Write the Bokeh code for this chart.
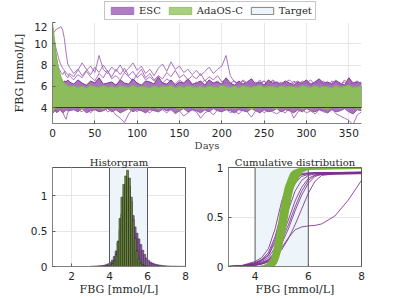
from bokeh.plotting import figure
from bokeh.layouts import column, row
from bokeh.models import Legend, LegendItem, ColumnDataSource, FixedTicker
from bokeh.embed import file_html
from bokeh.resources import INLINE

# ---------------- data ----------------
days = [0, 1, 2, 3, 4, 5, 6, 7, 8, 10, 12, 14, 16, 18] + list(range(20, 366, 5))
TARGET = (4.0, 6.0)
DAY_SPAN = (0, 365)
series_names = ["ESC", "AdaOS-C", "Target"]

ada_upper = [12.0, 11.3, 10.5, 9.8, 9.2, 8.6, 8.1, 7.7, 7.4, 6.9, 6.5, 6.3, 6.15, 6.05] + [
    5.95, 6.05, 5.9, 6.0, 5.85, 6.1, 5.95, 5.9, 6.05, 5.9,
    6.0, 5.85, 6.05, 5.95, 5.9, 6.1, 5.9, 6.0, 5.95, 5.85,
    6.05, 5.9, 6.0, 5.95, 6.1, 5.85, 6.0, 5.9, 6.05, 5.95,
    5.9, 6.0, 5.85, 6.05, 5.95, 5.9, 6.1, 5.95, 5.9, 6.0,
    5.85, 6.05, 5.95, 5.9, 6.0, 6.1, 5.9, 5.95, 6.0, 5.85,
    6.05, 5.9, 6.0, 5.95, 5.85, 6.1, 5.95, 5.9, 6.05, 5.9,
    6.0, 5.95, 5.85, 6.05, 5.9, 6.0, 6.1, 5.9, 5.95, 6.0]
ada_lower = [3.4, 3.6, 3.8, 3.9, 3.9, 3.95, 3.9, 3.95, 3.9, 3.95, 3.9, 3.95, 3.9, 3.95] + [
    3.95, 3.9, 4.0, 3.85, 3.95, 4.0, 3.9, 3.95, 3.85, 4.0,
    3.9, 3.95, 4.0, 3.9, 3.85, 3.95, 4.0, 3.9, 3.95, 3.9,
    4.0, 3.85, 3.95, 3.9, 4.0, 3.95, 3.85, 3.9, 4.0, 3.95,
    3.9, 3.95, 3.85, 4.0, 3.9, 3.95, 4.0, 3.85, 3.95, 3.9,
    3.95, 4.0, 3.9, 3.85, 3.95, 3.9, 4.0, 3.95, 3.9, 3.85,
    4.0, 3.9, 3.95, 3.9, 4.0, 3.85, 3.95, 3.9, 3.95, 4.0,
    3.9, 3.85, 3.95, 4.0, 3.9, 3.95, 3.9, 4.0, 3.85, 3.95]
esc_upper = [6.8, 6.7, 6.9, 6.6, 6.8, 6.7, 6.5, 6.6, 6.4, 6.7, 6.3, 6.5, 6.4, 6.6] + [
    6.4, 6.2, 6.6, 6.3, 6.1, 6.5, 6.3, 6.8, 6.2, 6.3,
    6.4, 6.1, 6.6, 6.3, 6.2, 6.7, 6.3, 6.1, 6.5, 6.4,
    6.2, 6.9, 6.3, 6.2, 6.6, 6.1, 6.4, 6.3, 6.7, 6.2,
    6.3, 6.5, 6.1, 6.6, 6.3, 6.4, 6.2, 6.8, 6.3, 6.1,
    6.5, 6.2, 6.4, 6.7, 6.2, 6.4, 6.1, 6.6, 6.3, 6.4,
    6.2, 6.5, 6.3, 6.1, 6.4, 6.3, 6.6, 6.2, 6.4, 6.7,
    6.3, 6.4, 6.2, 6.5, 6.3, 6.1, 6.8, 6.3, 6.4, 6.3]
esc_lower = [3.6, 3.5, 3.7, 3.6, 3.8, 3.5, 3.7, 3.6, 3.8, 3.7, 3.5, 3.6, 3.8, 3.7] + [
    3.7, 3.8, 3.6, 3.9, 3.5, 3.7, 3.8, 3.6, 3.7, 3.9,
    3.6, 3.8, 3.5, 3.7, 3.9, 3.6, 3.8, 3.7, 3.5, 3.8,
    3.7, 3.6, 3.9, 3.7, 3.8, 3.5, 3.7, 3.9, 3.6, 3.8,
    3.7, 3.5, 3.8, 3.6, 3.9, 3.7, 3.6, 3.8, 3.7, 3.5,
    3.8, 3.7, 3.6, 3.9, 3.7, 3.5, 3.8, 3.6, 3.7, 3.9,
    3.6, 3.8, 3.7, 3.5, 3.8, 3.6, 3.9, 3.7, 3.6, 3.8,
    3.7, 3.5, 3.8, 3.6, 3.7, 3.9, 3.6, 3.4, 3.8, 3.7]
esc_trace_1 = [10.6, 11.0, 11.1, 11.2, 11.3, 11.4, 11.4, 11.5, 11.5, 11.6, 11.3, 10.5, 9.2, 8.1] + [
    7.8, 7.2, 7.6, 7.0, 7.5, 7.9, 7.3, 8.9, 7.6, 7.2,
    7.8, 7.4, 8.0, 7.3, 7.7, 8.2, 7.5, 7.9, 7.2, 7.6,
    7.0, 7.7, 8.1, 7.4, 8.3, 7.6, 7.9, 7.3, 7.6, 7.1,
    7.5, 7.0, 7.4, 7.8, 7.2, 7.6, 7.9, 8.9, 7.0, 6.4,
    6.2, 6.5, 6.1, 6.4, 6.2, 6.6, 6.0, 6.3, 6.5, 6.1,
    6.4, 6.2, 6.0, 6.3, 6.5, 6.1, 6.3, 6.0, 6.4, 6.2,
    6.5, 6.1, 6.3, 6.6, 6.2, 6.4, 6.0, 6.3, 6.5, 6.2]
esc_trace_2 = [10.2, 10.8, 10.5, 10.0, 9.6, 9.3, 9.0, 8.7, 8.4, 8.0, 7.7, 7.5, 7.3, 7.1] + [
    7.0, 6.6, 7.1, 6.8, 7.4, 6.9, 6.5, 7.2, 6.8, 7.5,
    6.7, 7.0, 6.6, 7.3, 6.9, 6.5, 7.1, 7.6, 6.8, 7.2,
    6.6, 7.0, 6.7, 7.3, 6.9, 7.5, 6.8, 7.1, 6.6, 7.0,
    6.7, 7.2, 6.5, 6.9, 6.6, 7.0, 6.4, 6.7, 6.3, 6.5,
    6.2, 6.6, 6.3, 6.0, 6.4, 6.2, 6.5, 6.1, 6.6, 6.3,
    6.0, 6.4, 6.6, 6.2, 6.1, 6.5, 6.3, 6.6, 6.1, 6.4,
    6.2, 6.0, 6.5, 6.3, 6.1, 6.6, 6.2, 6.4, 6.0, 6.3]
esc_trace_3 = [10.0, 9.0, 8.0, 7.2, 6.5, 6.0, 5.6, 5.2, 4.8, 4.2, 3.6, 3.2, 2.9, 3.5] + [
    3.9, 4.2, 3.8, 3.6, 4.0, 3.5, 3.9, 3.7, 4.1, 3.6,
    3.8, 3.3, 3.0, 2.6, 3.4, 3.9, 3.6, 4.0, 3.7, 3.5,
    3.9, 3.6, 3.8, 3.5, 3.9, 3.4, 3.7, 3.2, 3.5, 3.8,
    3.6, 3.0, 3.5, 3.7, 3.3, 3.8, 3.6, 3.9, 3.5, 3.7,
    3.4, 3.8, 3.6, 3.1, 3.7, 3.9, 3.5, 3.8, 3.6, 3.4,
    3.7, 3.5, 3.9, 3.0, 3.6, 3.8, 3.5, 3.7, 3.4, 3.8,
    3.6, 3.5, 3.9, 3.4, 3.2, 3.0, 2.8, 2.4, 3.3, 3.6]
esc_trace_4 = [9.8, 10.4, 10.0, 9.4, 8.9, 8.5, 8.1, 7.8, 7.6, 7.3, 7.1, 7.4, 7.0, 6.8] + [
    7.2, 6.9, 7.5, 8.2, 7.6, 7.1, 7.8, 7.3, 8.0, 7.4,
    6.9, 7.6, 7.1, 7.7, 7.0, 7.4, 6.8, 7.2, 6.6, 6.9,
    6.5, 6.8, 6.3, 6.7, 6.4, 6.2, 6.6, 6.3, 6.5, 6.1,
    6.4, 6.2, 6.6, 6.0, 6.3, 6.5, 6.1, 6.4, 6.2, 6.0,
    6.3, 6.1, 6.4, 6.2, 6.0, 6.3, 6.5, 6.2, 6.0, 6.4,
    6.1, 6.3, 6.0, 6.5, 6.2, 6.0, 6.4, 6.1, 6.3, 6.5,
    6.0, 6.3, 6.1, 6.4, 6.2, 6.0, 6.5, 6.1, 6.3, 6.4]
esc_traces = [esc_trace_1, esc_trace_2, esc_trace_3, esc_trace_4]
for s in [ada_upper, ada_lower, esc_upper, esc_lower] + esc_traces:
    assert len(s) == len(days), len(s)

day_ticks = [0, 50, 100, 150, 200, 250, 300, 350]
fbg_ticks = [4, 6, 8, 10, 12]

# histogram (density), bins of 0.1 mmol/L
hist_centers = [round(3.05 + 0.1 * i, 2) for i in range(50)]
hist_esc = [
    0.005, 0.005, 0.007, 0.008, 0.01, 0.012, 0.015, 0.02, 0.03, 0.04,
    0.06, 0.09, 0.14, 0.22, 0.34, 0.52, 0.74, 0.98, 1.16, 1.24,
    1.14, 0.92, 0.72, 0.56, 0.47, 0.39, 0.31, 0.23, 0.17, 0.12,
    0.09, 0.065, 0.05, 0.038, 0.03, 0.024, 0.019, 0.015, 0.012, 0.01,
    0.008, 0.007, 0.006, 0.005, 0.005, 0.004, 0.004, 0.003, 0.003, 0.002]
hist_ada = [
    0, 0, 0, 0, 0, 0, 0.003, 0.005, 0.01, 0.015,
    0.025, 0.04, 0.08, 0.17, 0.36, 0.68, 0.98, 1.16, 1.28, 1.36,
    1.25, 0.98, 0.66, 0.40, 0.22, 0.11, 0.05, 0.025, 0.012, 0.006,
    0.003, 0, 0, 0, 0, 0, 0, 0, 0, 0,
    0, 0, 0, 0, 0, 0, 0, 0, 0, 0]
assert len(hist_esc) == 50 and len(hist_ada) == 50
hist_xticks = [2, 4, 6, 8]
unit_yticks = [0, 0.5, 1]
unit_ytick_labels = ["0", "0.5", "1"]

# cumulative distributions
cdf_x = [3.0, 3.5, 4.0, 4.25, 4.5, 4.75, 5.0, 5.25, 5.5, 5.75, 6.0, 6.25, 6.5, 7.0, 7.5, 8.0]
esc_cdfs = [
    [0.0, 0.01, 0.05, 0.09, 0.18, 0.38, 0.66, 0.86, 0.925, 0.94, 0.945, 0.95, 0.95, 0.95, 0.952, 0.955],
    [0.0, 0.008, 0.04, 0.07, 0.14, 0.3, 0.55, 0.78, 0.9, 0.93, 0.94, 0.945, 0.945, 0.946, 0.948, 0.95],
    [0.0, 0.006, 0.03, 0.06, 0.11, 0.24, 0.45, 0.68, 0.84, 0.91, 0.93, 0.94, 0.94, 0.942, 0.944, 0.945],
    [0.0, 0.005, 0.025, 0.05, 0.09, 0.19, 0.36, 0.57, 0.76, 0.87, 0.92, 0.935, 0.938, 0.94, 0.94, 0.94],
    [0.0, 0.004, 0.02, 0.04, 0.07, 0.15, 0.29, 0.47, 0.66, 0.8, 0.89, 0.925, 0.935, 0.937, 0.938, 0.94],
    [0.0, 0.003, 0.015, 0.03, 0.06, 0.12, 0.23, 0.38, 0.56, 0.72, 0.84, 0.91, 0.93, 0.935, 0.936, 0.937],
    [0.0, 0.003, 0.012, 0.025, 0.05, 0.1, 0.19, 0.29, 0.37, 0.4, 0.41, 0.415, 0.43, 0.51, 0.67, 0.87],
    [0.0, 0.007, 0.035, 0.065, 0.12, 0.27, 0.5, 0.74, 0.88, 0.925, 0.94, 0.945, 0.946, 0.948, 0.95, 0.952],
    [0.0, 0.004, 0.02, 0.035, 0.065, 0.14, 0.26, 0.42, 0.6, 0.76, 0.87, 0.92, 0.932, 0.935, 0.937, 0.94],
    [0.0, 0.003, 0.012, 0.025, 0.045, 0.09, 0.17, 0.28, 0.42, 0.58, 0.74, 0.86, 0.92, 0.935, 0.94, 0.94],
]
ada_cdf_levels = [0.0, 0.012, 0.03, 0.06, 0.1, 0.2, 0.3, 0.4, 0.5, 0.6, 0.7, 0.8, 0.9, 0.95, 0.975, 0.985, 1.0]
ada_cdf_left = [3.95, 4.3, 4.45, 4.55, 4.62, 4.71, 4.78, 4.84, 4.9, 4.96, 5.03, 5.11, 5.25, 5.33, 5.45, 5.55, 5.7]
ada_cdf_right = [4.72, 4.77, 4.82, 4.87, 4.92, 5.02, 5.1, 5.17, 5.24, 5.3, 5.37, 5.46, 5.66, 5.78, 6.0, 8.0, 8.0]
cdf_xticks = [4, 6, 8]

# ---------------- style ----------------
PURPLE = "#7e2f8e"
PURPLE_FILL = "#a874bf"
GREEN_FILL = "#8dbc5d"
GREEN = "#7bb13a"
TARGET_FILL = "#edf5fa"
EDGE = "#5a5a5a"
TICK_FONT = "DejaVu Sans"
SERIF = "DejaVu Serif"
LEGEND_FILLS = ["#b07cc6", "#a8d080", TARGET_FILL]
LEGEND_LINES = ["#a070b8", "#98c070", "#808080"]


def style(p, box):
    p.xgrid.grid_line_color = "#e6e6e6"
    p.ygrid.grid_line_color = "#e6e6e6"
    for ax in (p.xaxis, p.yaxis):
        ax.axis_line_color = "#808080"
        ax.major_tick_line_color = "#606060"
        ax.major_tick_in = 3
        ax.major_tick_out = 0
        ax.minor_tick_line_color = None
        ax.major_label_text_font = TICK_FONT
        ax.major_label_text_font_size = "10.5px"
        ax.major_label_text_color = "#262626"
        ax.axis_label_text_font = SERIF
        ax.axis_label_text_font_size = "11px"
        ax.axis_label_text_font_style = "normal"
        ax.axis_label_text_color = "#262626"
    p.xaxis.major_label_standoff = 5
    p.yaxis.major_label_standoff = 5
    p.xaxis.axis_label_standoff = 0
    p.yaxis.axis_label_standoff = 5
    p.outline_line_color = EDGE if box else None
    p.background_fill_color = "white"
    p.border_fill_color = "white"


# ---------------- legend strip (its own small canvas) ----------------
leg = figure(width=369, height=22, x_range=(0, 1), y_range=(0, 1),
             x_axis_location=None, y_axis_location=None,
             output_backend="svg", toolbar_location=None,
             min_border_left=0, min_border_right=0, min_border_top=0, min_border_bottom=0)
leg.grid.visible = False
leg.outline_line_color = None
items = []
for name, fc, lc in zip(series_names, LEGEND_FILLS, LEGEND_LINES):
    # proxy glyph lying outside the strip's visible range; only its legend swatch shows
    r = leg.quad(left=[5], right=[6], bottom=[5], top=[6], fill_color=fc, line_color=lc)
    items.append(LegendItem(label=name, renderers=[r]))
legend = Legend(items=items, orientation="horizontal", location=(52, 2),
                glyph_width=28, glyph_height=9, label_height=9, label_width=10,
                label_standoff=3, spacing=5, padding=3, margin=0,
                border_line_color="#8c8c8c", label_text_font=SERIF,
                label_text_font_size="10px", label_text_color="#262626")
leg.add_layout(legend, "center")

# ---------------- top: time series ----------------
top = figure(width=369, height=132, x_range=DAY_SPAN, y_range=(2.5, 12),
             output_backend="svg", toolbar_location=None,
             min_border_left=52, min_border_right=8, min_border_top=0, min_border_bottom=31)
style(top, box=False)
top.xaxis.ticker = FixedTicker(ticks=day_ticks)
top.yaxis.ticker = FixedTicker(ticks=fbg_ticks)
top.xaxis.axis_label = "Days"
top.xaxis.axis_label_text_font_size = "10px"
top.xaxis.axis_label_text_color = "#404040"
top.yaxis.axis_label = "FBG [mmol/L]"

top.quad(left=[DAY_SPAN[0]], right=[DAY_SPAN[1]], bottom=[TARGET[0]], top=[TARGET[1]],
         fill_color=TARGET_FILL, line_color=EDGE, line_width=1)
src = ColumnDataSource(dict(d=days, eu=esc_upper, el=esc_lower, au=ada_upper, al=ada_lower))
top.varea(x="d", y1="el", y2="eu", source=src, fill_color=PURPLE_FILL)
top.line(x="d", y="eu", source=src, line_color=PURPLE, line_width=1)
top.line(x="d", y="el", source=src, line_color="#9050a8", line_width=1)
top.multi_line(xs=[days] * len(esc_traces), ys=esc_traces, line_color="#a064b8",
               line_width=1, line_alpha=0.9)
top.varea(x="d", y1="al", y2="au", source=src, fill_color=GREEN_FILL)
top.line(x="d", y="au", source=src, line_color="#7fb24c", line_width=1)
top.line(x=list(DAY_SPAN), y=[TARGET[0], TARGET[0]], line_color="#333333", line_width=1)

# ---------------- bottom left: histogram ----------------
bl = figure(width=195, height=145, x_range=(1, 8), y_range=(0, 1.4),
            output_backend="svg", toolbar_location=None, title="Historgram",
            min_border_left=52, min_border_right=10, min_border_top=12, min_border_bottom=33)
style(bl, box=True)
bl.xaxis.ticker = FixedTicker(ticks=hist_xticks)
bl.yaxis.ticker = FixedTicker(ticks=unit_yticks)
bl.yaxis.major_label_overrides = dict(zip(unit_yticks, unit_ytick_labels))
bl.xaxis.axis_label = "FBG [mmol/L]"
bl.quad(left=[TARGET[0]], right=[TARGET[1]], bottom=[0], top=[1.4],
        fill_color=TARGET_FILL, line_color=None)
bl.vbar(x=hist_centers, width=0.1, top=hist_esc, fill_color="#9a5cb0",
        line_color="#222222", line_width=0.5)
bl.vbar(x=hist_centers, width=0.1, top=hist_ada, fill_color="#6f8f3e",
        line_color="#1a1a1a", line_width=0.5)
bl.segment(x0=list(TARGET), x1=list(TARGET), y0=[0, 0], y1=[1.4, 1.4], line_color=EDGE, line_width=1)

# ---------------- bottom right: cumulative ----------------
br = figure(width=174, height=145, x_range=(3, 8), y_range=(0, 1),
            output_backend="svg", toolbar_location=None, title="Cumulative distribution",
            min_border_left=33, min_border_right=8, min_border_top=12, min_border_bottom=33)
style(br, box=True)
br.xaxis.ticker = FixedTicker(ticks=cdf_xticks)
br.yaxis.ticker = FixedTicker(ticks=unit_yticks)
br.yaxis.major_label_overrides = dict(zip(unit_yticks, unit_ytick_labels))
br.xaxis.axis_label = "FBG [mmol/L]"
br.quad(left=[TARGET[0]], right=[TARGET[1]], bottom=[0], top=[1],
        fill_color=TARGET_FILL, line_color=None)
br.segment(x0=list(TARGET), x1=list(TARGET), y0=[0, 0], y1=[1, 1], line_color=EDGE, line_width=1)
br.multi_line(xs=[cdf_x] * len(esc_cdfs), ys=esc_cdfs, line_color=PURPLE, line_width=1, line_alpha=0.85)
br.harea(x1=ada_cdf_left, x2=ada_cdf_right, y=ada_cdf_levels, fill_color=GREEN)

for p in (bl, br):
    p.title.align = "center"
    p.title.text_font = SERIF
    p.title.text_font_size = "10px"
    p.title.text_font_style = "normal"
    p.title.text_color = "#262626"
    p.title.standoff = 0

layout = column(leg, top, row(bl, br))
open("out.html", "w").write(file_html(layout, INLINE))
